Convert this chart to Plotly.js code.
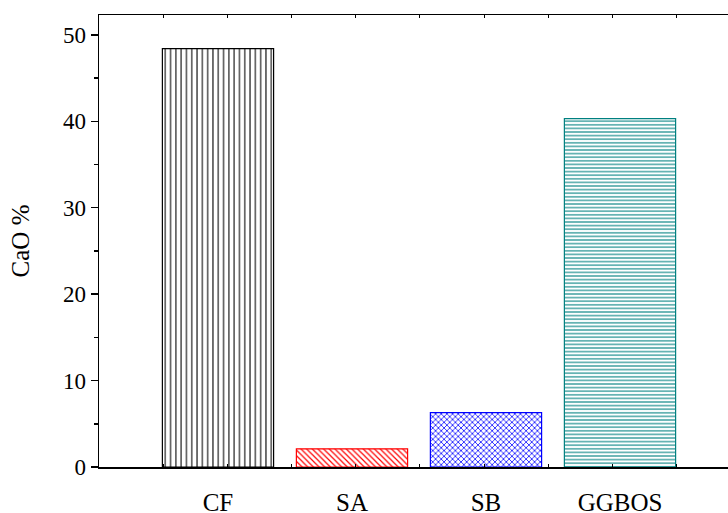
<!DOCTYPE html>
<html><head><meta charset="utf-8">
<script src="https://cdn.plot.ly/plotly-3.0.1.min.js"></script>
<style>html,body{margin:0;padding:0;background:#fff}#c{width:728px;height:513px}</style>
</head><body><div id="c"></div>
<script>
const categories = ["CF", "SA", "SB", "GGBOS"];
const caoValues = [48.4, 2.1, 6.3, 40.3];
const barColors = ["#000000", "#FF0000", "#0000FF", "#008080"];
const patternShapes = ["|", "\\", "x", "-"];
const patternSizes = [5.3, 4, 4, 3.6];
const patternSolidity = [0.2, 0.3, 0.35, 0.3];
const positions = categories.map((c, i) => i + 1);

const traces = categories.map((c, i) => ({
  type: "bar",
  x: [positions[i]],
  y: [caoValues[i]],
  width: 0.83,
  marker: {
    color: "#ffffff",
    line: {color: barColors[i], width: 1.2},
    pattern: {shape: patternShapes[i], fgcolor: barColors[i], bgcolor: "#ffffff",
              size: patternSizes[i], solidity: patternSolidity[i]}
  },
  hoverinfo: "skip",
  showlegend: false
}));
traces.push({type: "scatter", x: [99, 728], y: [0, 0], xaxis: "x2", mode: "none", hoverinfo: "skip", showlegend: false});

const fam = "Liberation Serif, Times New Roman, serif";

Plotly.newPlot("c", traces, {
  width: 728, height: 513,
  margin: {l: 99, r: 0, t: 15, b: 46},
  paper_bgcolor: "#fff", plot_bgcolor: "#fff",
  font: {family: fam, color: "#000", size: 23},
  xaxis: {
    range: [0.112, 4.806], tickvals: positions, ticktext: categories,
    ticks: "", showgrid: false, zeroline: false,
    showline: true, linecolor: "#000", linewidth: 1.5, mirror: true,
    ticklabelstandoff: 12, tickfont: {family: fam, size: 25, color: "#000"}
  },
  xaxis2: {
    overlaying: "x", range: [99, 728], tick0: 163, dtick: 64.2,
    ticks: "inside", ticklen: 3, tickwidth: 1, tickcolor: "#000",
    showticklabels: false, showgrid: false, zeroline: false, showline: false,
    mirror: "allticks", side: "bottom"
  },
  yaxis: {
    range: [0, 52.3], dtick: 10, tick0: 0,
    ticks: "outside", ticklen: 7, tickwidth: 1.5, tickcolor: "#000",
    minor: {dtick: 5, ticks: "outside", ticklen: 4, tickwidth: 1.5, tickcolor: "#000"},
    showgrid: false, zeroline: false, showline: true, linecolor: "#000", linewidth: 1.5,
    tickfont: {family: fam, size: 23, color: "#000"},
    title: {text: "CaO %", font: {family: fam, size: 25, color: "#000"}, standoff: 26}
  },
  bargap: 0
}, {staticPlot: true, displayModeBar: false});
</script></body></html>
